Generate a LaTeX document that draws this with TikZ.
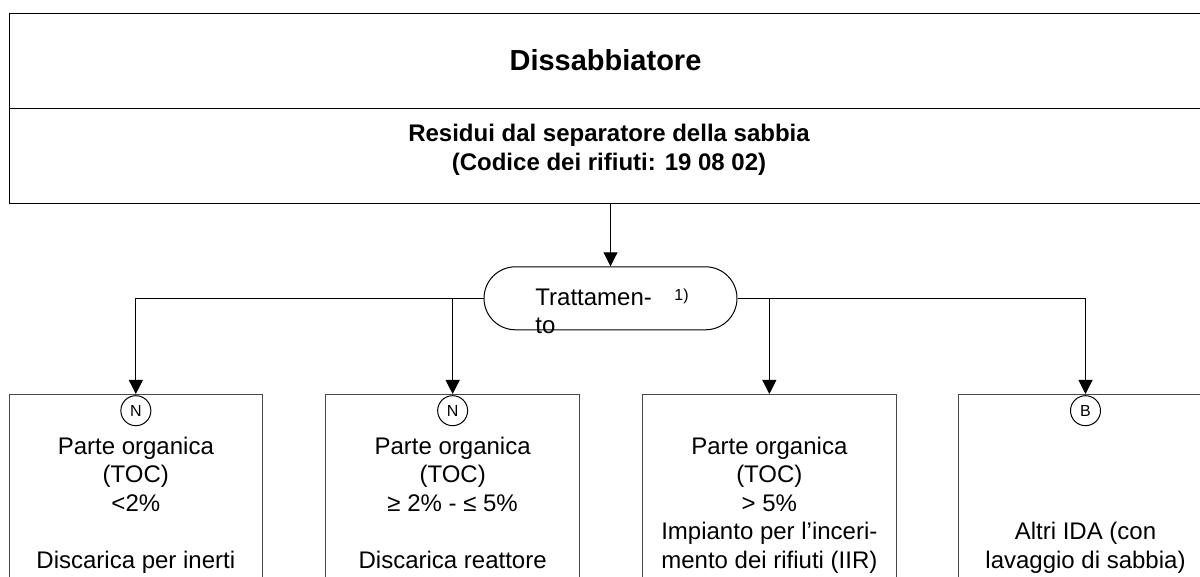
\documentclass[tikz,border=0pt]{standalone}
\usepackage{fontspec}
\setmainfont{Liberation Sans}
\usetikzlibrary{arrows.meta}
\begin{document}
\begin{tikzpicture}[x=0.5pt,y=-0.5pt,
  topframe/.style={draw=black, line width=0.6pt, rectangle, inner sep=0pt, minimum width=597.85pt, minimum height=47.5pt},
  boxframe/.style={draw=black!72, line width=0.5pt, rectangle, inner sep=0pt, minimum width=126.85pt, minimum height=113pt, anchor=north},
  pill/.style={draw=black, line width=0.5pt, rectangle, rounded corners=15.75pt, minimum width=126.5pt, minimum height=31.5pt, inner sep=0pt},
  circ/.style={circle, draw=black, line width=0.5pt, minimum size=15pt, inner sep=0pt, font=\fontsize{8}{9.6}\selectfont},
  txt/.style={anchor=base, align=center, inner sep=0pt, font=\fontsize{12}{14.25}\selectfont},
  arr/.style={draw=black, line width=0.5pt, -{Triangle[length=7pt,width=7pt]}},
  conn/.style={draw=black, line width=0.5pt}
]
\useasboundingbox (0,0) rectangle (1200,577);
\clip (0,0) rectangle (1200,577);

% top boxes
\node[topframe] (title) at (607.2,60.8) {};
\node[topframe] (source) at (607.2,155.8) {};
\node[anchor=base, inner sep=0pt, font=\bfseries\fontsize{14.5}{17}\selectfont] (titletext) at (605.5,70.7) {Dissabbiatore};
\node[txt, font=\bfseries\fontsize{12}{14.25}\selectfont] (sourcetext) at (609,170.4) {Residui dal separatore della sabbia\\(Codice dei rifiuti: 19 08 02)};

% treatment
\node[pill] (treat) at (610.5,298.3) {};
\node[anchor=base west, align=left, inner sep=0pt, font=\fontsize{12}{14}\selectfont] (treattext) at (535,334) {Trattamen-\\to};
\node[anchor=base west, inner sep=0pt, font=\fontsize{8}{9.6}\selectfont] (note) at (674,300.7) {1)};

% bottom boxes
\node[boxframe] (b1) at (135.85,394) {};
\node[boxframe] (b2) at (452.65,394) {};
\node[boxframe] (b3) at (769.35,394) {};
\node[boxframe] (b4) at (1085.5,394) {};

\node[circ] (c1) at (135.85,410.7) {N};
\node[circ] (c2) at (452.65,410.7) {N};
\node[circ] (c4) at (1085.5,410.7) {B};

\node[txt] (t1) at (135.85,568) {Parte organica\\(TOC)\\<2\%\\[14.25pt]Discarica per inerti};
\node[txt] (t2) at (452.65,568) {Parte organica\\(TOC)\\≥ 2\% - ≤ 5\%\\[14.25pt]Discarica reattore};
\node[txt] (t3) at (769.35,568) {Parte organica\\(TOC)\\> 5\%\\Impianto per l’inceri-\\mento dei rifiuti (IIR)};
\node[txt] (t4) at (1085.5,568.3) {Altri IDA (con\\lavaggio di sabbia)};

% connectors
\draw[arr] (treat.north |- source.south) -- (treat.north);
\draw[arr] (treat.west) -| (b1.north);
\draw[arr] (treat.east) -| (b4.north);
\draw[arr] (b2.north |- treat.west) -- (b2.north);
\draw[arr] (b3.north |- treat.east) -- (b3.north);
\end{tikzpicture}
\end{document}
